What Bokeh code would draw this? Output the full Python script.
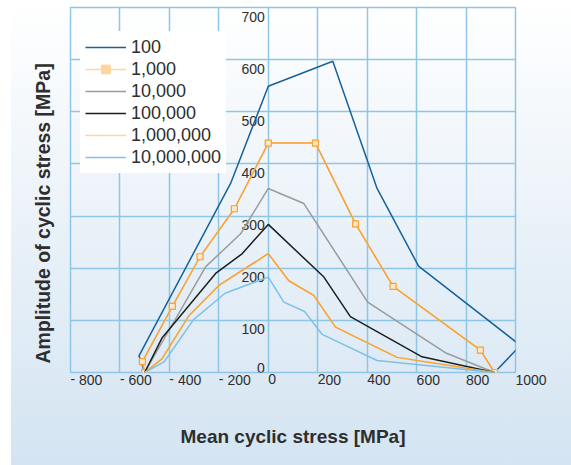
from bokeh.plotting import figure
from bokeh.models import Range1d, FixedTicker, Legend, LegendItem, Title, ColumnDataSource
from bokeh.core.properties import value
from bokeh.embed import file_html
from bokeh.resources import INLINE

# ---- data ----
series_names = ["100", "1,000", "10,000", "100,000", "1,000,000", "10,000,000"]

x_100 = [-500, -523, -152, 0, 261, 440, 608, 1020, 915]
y_100 = [0, 32, 363, 549, 597, 353, 204, 52, 0]

x_1k = [-500, -509, -388, -276, -137, 0, 191, 353, 505, 858, 915]
y_1k = [0, 21, 127, 222, 314, 440, 440, 285, 165, 43, 0]

x_10k = [-500, -253, -112, 0, 144, 402, 716, 915]
y_10k = [0, 203, 266, 353, 324, 135, 38, 0]

x_100k = [-500, -430, -213, -105, 0, 225, 332, 622, 915]
y_100k = [0, 66, 190, 228, 284, 183, 107, 30, 0]

x_1M = [-500, -430, -321, -200, 0, 83, 184, 272, 521, 915]
y_1M = [0, 26, 109, 167, 228, 176, 148, 87, 29, 0]

x_10M = [-500, -420, -303, -175, 0, 63, 147, 218, 440, 915]
y_10M = [0, 21, 101, 152, 183, 135, 117, 73, 23, 0]

x_ticks = [-800, -600, -400, -200, 0, 200, 400, 600, 800, 1000]
x_tick_labels = ["- 800", "- 600", "- 400", "- 200", "0", "200", "400", "600", "800", "1000"]
y_ticks = [0, 100, 200, 300, 400, 500, 600, 700]
y_tick_labels = ["0", "100", "200", "300", "400", "500", "600", "700"]

x_title = "Mean cyclic stress [MPa]"
y_title = "Amplitude of cyclic stress [MPa]"

# ---- styles ----
FONT = "Liberation Sans"
TXT = "#2e2e2e"
GRID = "#8fc6e6"
C_100 = "#17619b"
C_ORANGE = "#f7a234"
C_ORANGE_PALE = "#fcd59f"
C_GRAY = "#9b9b9b"
C_BLACK = "#1e1e1e"
C_LBLUE = "#7fc1e6"

p = figure(width=571, height=465, x_range=Range1d(-800, 1000), y_range=Range1d(0, 700),
           output_backend="svg", toolbar_location=None,
           min_border_left=70, min_border_right=56, min_border_top=7, min_border_bottom=93)
p.border_fill_alpha = 0
p.background_fill_alpha = 0
p.styles = {"background": "linear-gradient(to right, #ffffff 0px, #ffffff 11px, rgba(255,255,255,0) 11px), "
                          "linear-gradient(to bottom, #ffffff 0%, #d4e4f2 100%)"}
p.outline_line_color = GRID
p.outline_line_width = 1.5

p.xaxis.ticker = FixedTicker(ticks=x_ticks)
p.xaxis.major_label_overrides = {t: l for t, l in zip(x_ticks, x_tick_labels)}
p.xaxis.major_label_orientation = -0.0001
p.xaxis.major_label_text_font = FONT
p.xaxis.major_label_text_font_size = "14px"
p.xaxis.major_label_text_color = TXT
p.xaxis.major_tick_out = 0
p.xaxis.major_tick_in = 0
p.xaxis.minor_tick_line_color = None
p.xaxis.major_tick_line_color = None
p.xaxis.axis_line_color = None
p.xaxis.major_label_standoff = 7
p.xaxis.axis_label = x_title
p.xaxis.axis_label_text_font = FONT
p.xaxis.axis_label_text_font_size = "19px"
p.xaxis.axis_label_text_font_style = "bold"
p.xaxis.axis_label_text_color = TXT
p.xaxis.axis_label_standoff = 27

p.yaxis.visible = False
p.xgrid.grid_line_color = GRID
p.xgrid.grid_line_width = 1.5
p.ygrid.ticker = FixedTicker(ticks=y_ticks)
p.ygrid.grid_line_color = GRID
p.ygrid.grid_line_width = 1.5

# y tick labels drawn inside the plot next to the x = 0 line
ysrc = ColumnDataSource(dict(x=[0] * (len(y_ticks) - 1), y=y_ticks[1:], t=y_tick_labels[1:]))
p.text(x="x", y="y", text="t", source=ysrc, text_align="right", text_baseline="middle",
       x_offset=-3.5, y_offset=9, text_font=value(FONT), text_font_size="14px", text_color=TXT)
ysrc0 = ColumnDataSource(dict(x=[0], y=y_ticks[:1], t=y_tick_labels[:1]))
p.text(x="x", y="y", text="t", source=ysrc0, text_align="right", text_baseline="middle",
       x_offset=-3.5, y_offset=-5, text_font=value(FONT), text_font_size="14px", text_color=TXT)

LW = 1.5
r_100 = p.line(x_100, y_100, line_color=C_100, line_width=LW)
# pale copies underneath (fully covered) give the paler legend swatches of the reference
lg_1k = p.line(x_1k, y_1k, line_color=C_ORANGE_PALE, line_width=LW)
lg_1k_m = p.scatter(x_1k, y_1k, marker="square", size=6, line_color=C_ORANGE_PALE, fill_color=C_ORANGE_PALE)
lg_1M = p.line(x_1M, y_1M, line_color=C_ORANGE_PALE, line_width=LW)
r_1k = p.line(x_1k, y_1k, line_color=C_ORANGE, line_width=LW)
p.scatter(x_1k, y_1k, marker="square", size=6, line_color=C_ORANGE, line_width=1.2, fill_color="#fde8cc")
r_10k = p.line(x_10k, y_10k, line_color=C_GRAY, line_width=LW)
r_100k = p.line(x_100k, y_100k, line_color=C_BLACK, line_width=LW)
r_1M = p.line(x_1M, y_1M, line_color=C_ORANGE, line_width=LW)
r_10M = p.line(x_10M, y_10M, line_color=C_LBLUE, line_width=LW)

items = [
    LegendItem(label=series_names[0], renderers=[r_100]),
    LegendItem(label=series_names[1], renderers=[lg_1k, lg_1k_m]),
    LegendItem(label=series_names[2], renderers=[r_10k]),
    LegendItem(label=series_names[3], renderers=[r_100k]),
    LegendItem(label=series_names[4], renderers=[lg_1M]),
    LegendItem(label=series_names[5], renderers=[r_10M]),
]
legend = Legend(items=items, location=(10, 199), padding=5, spacing=0, margin=0,
                label_height=22, glyph_height=22, glyph_width=41, label_standoff=5,
                label_text_font=FONT, label_text_font_size="18px", label_text_color=TXT,
                border_line_alpha=0, background_fill_color="white", background_fill_alpha=1)
p.add_layout(legend)

p.add_layout(Title(text=y_title, align="left", offset=9, standoff=33,
                   text_font=FONT, text_font_size="19.5px", text_font_style="bold", text_color=TXT), "left")

open("out.html", "w").write(file_html(p, INLINE))
